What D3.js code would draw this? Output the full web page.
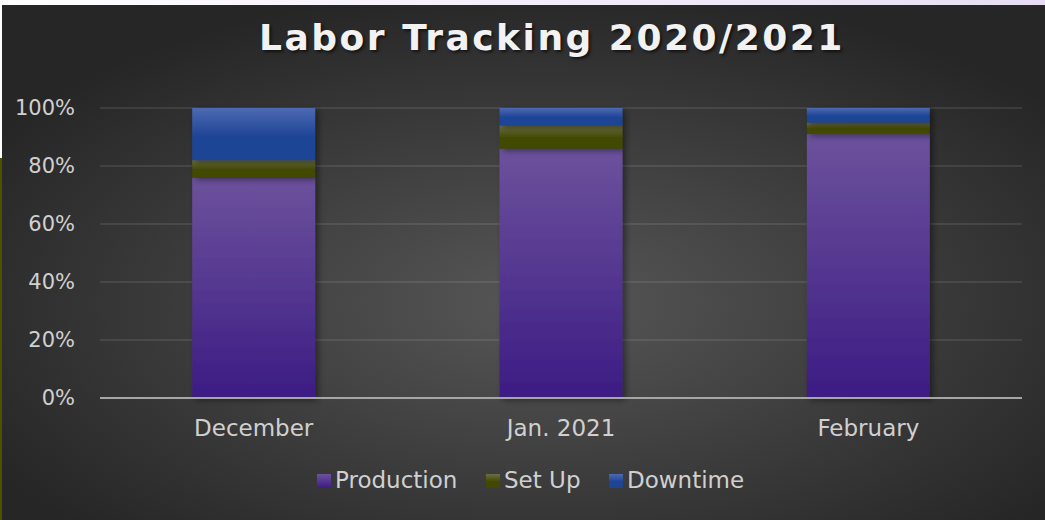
<!DOCTYPE html>
<html>
<head>
  <meta charset="UTF-8">
  <title>Labor Tracking 2020/2021</title>
  <script src="https://d3js.org/d3.v7.min.js"></script>
  <style>
    body { margin: 0; background: #fff; }
    text { font-family: "DejaVu Sans", sans-serif; }
  </style>
</head>
<body>
  <svg width="1045" height="520"></svg>

  <script>
    // Data (share of hours, %)
    const months = ["December", "Jan. 2021", "February"];
    const series = ["Production", "Set Up", "Downtime"];
    const production = [76, 86, 91];
    const setUp = [6, 8, 4];
    const downtime = [18, 6, 5];
    const yTicks = [0, 20, 40, 60, 80, 100];

    const colors = {
      "Production": ["#6c529c", "#3c1c84"],
      "Set Up": ["#6a6f45", "#434800"],
      "Downtime": ["#4c6ab2", "#1f4496"]
    };

    const width = 1045, height = 520;
    const margin = { top: 108, right: 23, bottom: 122, left: 100 };

    const svg = d3.select("svg");
    const defs = svg.append("defs");

    // Background
    const bg = defs.append("radialGradient").attr("id", "bg")
      .attr("cx", "52%").attr("cy", "58%").attr("r", "62%");
    bg.append("stop").attr("offset", "0%").attr("stop-color", "#575757");
    bg.append("stop").attr("offset", "100%").attr("stop-color", "#262626");

    const strip = defs.append("linearGradient").attr("id", "strip");
    strip.append("stop").attr("offset", "0%").attr("stop-color", "#ffffff");
    strip.append("stop").attr("offset", "100%").attr("stop-color", "#e6ddf4");

    svg.append("rect").attr("x", 0).attr("y", 0).attr("width", width).attr("height", 5)
      .attr("fill", "url(#strip)");
    svg.append("rect").attr("x", 0).attr("y", 158).attr("width", 2).attr("height", height - 158)
      .attr("fill", "#4d5200");
    svg.append("rect").attr("x", 2).attr("y", 5).attr("width", width - 2).attr("height", height - 5)
      .attr("fill", "url(#bg)");

    // Bar gradients and shadow
    series.forEach((s, i) => {
      const g = defs.append("linearGradient").attr("id", "g" + i)
        .attr("x1", 0).attr("y1", 0).attr("x2", 0).attr("y2", 1);
      g.append("stop").attr("offset", "0%").attr("stop-color", colors[s][0]);
      g.append("stop").attr("offset", i === 0 ? "100%" : "55%").attr("stop-color", colors[s][1]);
    });
    const sh = defs.append("filter").attr("id", "shadow")
      .attr("x", "-10%").attr("y", "-10%").attr("width", "130%").attr("height", "130%");
    sh.append("feDropShadow").attr("dx", 3).attr("dy", 2).attr("stdDeviation", 3)
      .attr("flood-color", "#000").attr("flood-opacity", 0.45);

    const plot = svg.append("g");

    const x = d3.scaleBand()
      .domain(months)
      .range([margin.left, width - margin.right])
      .paddingInner(0.6)
      .paddingOuter(0.3);
    const y = d3.scaleLinear()
      .domain([0, 100])
      .range([height - margin.bottom, margin.top]);

    // Gridlines
    plot.append("g")
      .selectAll("line")
      .data(yTicks.filter(d => d > 0))
      .join("line")
      .attr("x1", margin.left).attr("x2", width - margin.right)
      .attr("y1", d => y(d)).attr("y2", d => y(d))
      .attr("stroke", "#ffffff").attr("stroke-opacity", 0.09).attr("stroke-width", 2);

    // Stacked bars
    const rows = months.map((m, i) => ({
      month: m, "Production": production[i], "Set Up": setUp[i], "Downtime": downtime[i]
    }));
    const stacked = d3.stack().keys(series)(rows);

    plot.append("g").selectAll("g")
      .data(stacked)
      .join("g")
      .attr("fill", (d, i) => "url(#g" + i + ")")
      .attr("filter", "url(#shadow)")
      .selectAll("rect")
      .data(d => d)
      .join("rect")
      .attr("x", d => x(d.data.month))
      .attr("y", d => y(d[1]))
      .attr("width", x.bandwidth())
      .attr("height", d => y(d[0]) - y(d[1]));

    // Y axis
    const yAxis = plot.append("g")
      .attr("transform", `translate(${margin.left - 22},0)`)
      .call(d3.axisLeft(y).tickValues(yTicks).tickFormat(d => d + "%").tickSize(0));
    yAxis.select(".domain").remove();
    yAxis.selectAll("text")
      .attr("fill", "#d0d0d0").style("font-size", "21px")
      .attr("font-family", "DejaVu Sans");

    // X axis
    const xAxis = plot.append("g")
      .attr("transform", `translate(0,${y(0)})`)
      .call(d3.axisBottom(x).tickSize(0).tickPadding(22));
    xAxis.select(".domain")
      .attr("stroke", "#a6a6a6").attr("stroke-width", 2)
      .attr("d", `M${margin.left},0H${width - margin.right}`);
    xAxis.selectAll("text")
      .attr("fill", "#d0d0d0").style("font-size", "23px")
      .attr("font-family", "DejaVu Sans");

    // Title
    svg.append("text")
      .attr("x", 552)
      .attr("y", 50)
      .attr("text-anchor", "middle")
      .attr("fill", "#f2f2f2")
      .style("font-size", "36px")
      .style("font-weight", "bold")
      .style("letter-spacing", "2.5px")
      .style("text-shadow", "2px 2px 3px rgba(0,0,0,0.6)")
      .text("Labor Tracking 2020/2021");

    // Legend
    const legendX = [317, 486, 609];
    const legend = svg.append("g").selectAll("g")
      .data(series)
      .join("g")
      .attr("transform", (d, i) => `translate(${legendX[i]},${480})`);
    legend.append("rect")
      .attr("width", 14).attr("height", 14).attr("y", -6)
      .attr("fill", (d, i) => "url(#g" + i + ")");
    legend.append("text")
      .attr("x", 18).attr("dy", "0.35em")
      .attr("fill", "#d0d0d0").style("font-size", "23px")
      .text(d => d);
  </script>
</body>
</html>
